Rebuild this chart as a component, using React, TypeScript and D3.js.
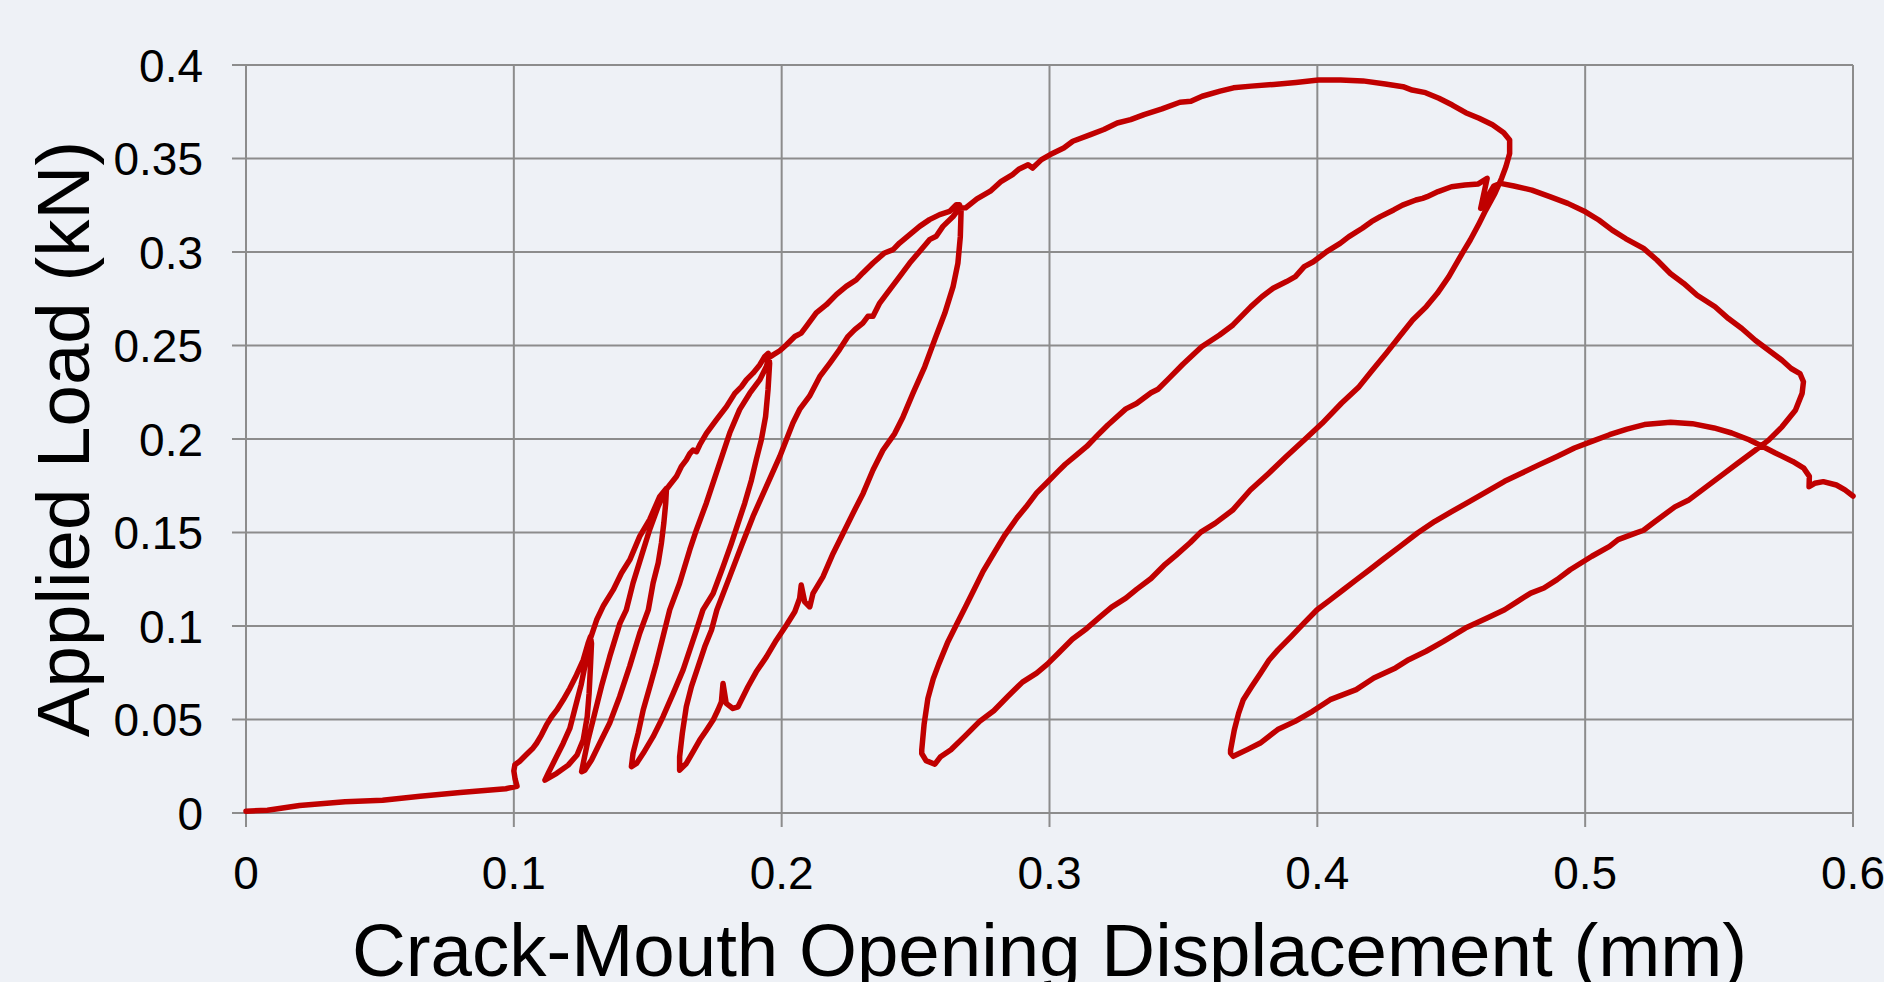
import React from 'react';
import * as d3 from 'd3';

const width = 1884;
const height = 982;

const xTicks = [0, 0.1, 0.2, 0.3, 0.4, 0.5, 0.6];
const xTickLabels = ['0', '0.1', '0.2', '0.3', '0.4', '0.5', '0.6'];
const yTicks = [0, 0.05, 0.1, 0.15, 0.2, 0.25, 0.3, 0.35, 0.4];
const yTickLabels = ['0', '0.05', '0.1', '0.15', '0.2', '0.25', '0.3', '0.35', '0.4'];

// [CMOD (mm), applied load (kN)] in drawing order
const initialLoad = [
  [0, 0.001], [0.008, 0.0015], [0.02, 0.004], [0.037, 0.006], [0.051, 0.0068],
  [0.065, 0.009], [0.08, 0.011], [0.097, 0.013], [0.1012, 0.0143],
];
const envelope1 = [
  [0.1005, 0.018], [0.1, 0.0225], [0.1004, 0.0258], [0.1022, 0.0277], [0.1047, 0.0313],
  [0.1072, 0.0348], [0.1085, 0.0373], [0.1103, 0.0417], [0.1122, 0.0471], [0.1141, 0.0515],
  [0.116, 0.055], [0.1184, 0.0604], [0.1209, 0.0667], [0.1234, 0.0738], [0.1259, 0.0818],
  [0.1277, 0.0907], [0.1286, 0.0943],
];
const unload1 = [
  [0.129, 0.0907], [0.1286, 0.0782], [0.1281, 0.0639], [0.1274, 0.0515], [0.1259, 0.039],
  [0.1236, 0.031], [0.1203, 0.0256], [0.116, 0.0212], [0.1116, 0.0176],
];
const reload1 = [
  [0.1128, 0.0212], [0.1153, 0.0283], [0.1184, 0.0372], [0.1209, 0.0452], [0.123, 0.0568],
  [0.1251, 0.0684], [0.127, 0.0818], [0.1284, 0.0925],
];
const envelope2 = [
  [0.1309, 0.1032], [0.1335, 0.111], [0.1371, 0.1193], [0.1402, 0.1283], [0.1433, 0.1354],
  [0.147, 0.1479], [0.1507, 0.1569], [0.1545, 0.1693], [0.157, 0.1736],
];
const unload2 = [
  [0.1567, 0.1656], [0.156, 0.155], [0.1551, 0.1443], [0.1539, 0.1337], [0.152, 0.123],
  [0.1502, 0.1086], [0.147, 0.0961], [0.1433, 0.0787], [0.1395, 0.0622], [0.1358, 0.0481],
  [0.1321, 0.0374], [0.129, 0.0283], [0.1265, 0.0229], [0.1253, 0.0221],
];
const reload2 = [
  [0.1259, 0.0265], [0.1277, 0.039], [0.1302, 0.0533], [0.1327, 0.0676], [0.1358, 0.0836],
  [0.1396, 0.1014], [0.142, 0.1086], [0.1445, 0.1229], [0.1476, 0.1372], [0.1507, 0.1515],
  [0.1539, 0.164], [0.1564, 0.172],
];
const envelope3 = [
  [0.1582, 0.1754], [0.1607, 0.1799], [0.1625, 0.1852], [0.1644, 0.1888], [0.1657, 0.1922],
  [0.1669, 0.1941], [0.1682, 0.1932], [0.1694, 0.1968], [0.1719, 0.203], [0.1756, 0.2102],
  [0.1794, 0.2173], [0.1825, 0.2244], [0.185, 0.228], [0.1868, 0.2316], [0.1893, 0.2352],
  [0.1918, 0.2396], [0.1937, 0.2441], [0.195, 0.2458],
];
const unload3 = [
  [0.1955, 0.2405], [0.1949, 0.2262], [0.194, 0.212], [0.1924, 0.1995], [0.1905, 0.1888],
  [0.1887, 0.178], [0.1862, 0.1656], [0.1837, 0.1549], [0.1812, 0.1441], [0.1781, 0.1316],
  [0.1744, 0.1174], [0.1706, 0.1086], [0.1682, 0.0979], [0.1657, 0.0872], [0.1632, 0.0765],
  [0.1595, 0.064], [0.1557, 0.0515], [0.152, 0.0408], [0.1483, 0.0319], [0.1458, 0.0265],
  [0.1439, 0.0248],
];
const reload3 = [
  [0.1445, 0.0319], [0.1464, 0.0426], [0.1483, 0.0551], [0.1508, 0.0676], [0.1532, 0.08],
  [0.1557, 0.0943], [0.1582, 0.1086], [0.1619, 0.1229], [0.1657, 0.1408], [0.1682, 0.1515],
  [0.1719, 0.1658], [0.1756, 0.1818], [0.1781, 0.1925], [0.1806, 0.2032], [0.1843, 0.2157],
  [0.1881, 0.2245], [0.1918, 0.2316], [0.1943, 0.2388], [0.1952, 0.2435],
];
const envelope4 = [
  [0.1968, 0.245], [0.1993, 0.2472], [0.2017, 0.2503], [0.2049, 0.2548], [0.2073, 0.2566],
  [0.2092, 0.2602], [0.2129, 0.2674], [0.2167, 0.2718], [0.2204, 0.2772], [0.2241, 0.2816],
  [0.2279, 0.2852], [0.2303, 0.2888], [0.2341, 0.2941], [0.2384, 0.2995], [0.2416, 0.3013],
  [0.244, 0.3048], [0.2478, 0.3093], [0.2515, 0.3137], [0.2552, 0.3173], [0.259, 0.32],
  [0.2627, 0.3217], [0.2652, 0.3253], [0.2664, 0.3253],
];
const unload4 = [
  [0.267, 0.3225], [0.2667, 0.3082], [0.2658, 0.294], [0.264, 0.2815], [0.2609, 0.2672],
  [0.2571, 0.2529], [0.2534, 0.2386], [0.249, 0.2244], [0.2453, 0.2118], [0.2422, 0.2029],
  [0.2378, 0.194], [0.2341, 0.1834], [0.2304, 0.1709], [0.2266, 0.1602], [0.2229, 0.1495],
  [0.2192, 0.1388], [0.2154, 0.1263], [0.2117, 0.1174], [0.2105, 0.1102], [0.2086, 0.1129],
  [0.2073, 0.1219], [0.2067, 0.1147], [0.2049, 0.1076], [0.2018, 0.1005], [0.198, 0.0924],
  [0.1943, 0.0835], [0.1905, 0.0755], [0.1874, 0.0675], [0.1837, 0.0568], [0.1818, 0.0559],
  [0.1793, 0.0586], [0.1781, 0.0693], [0.1775, 0.0595], [0.1762, 0.0551], [0.1744, 0.0497],
  [0.1719, 0.0443], [0.1694, 0.039], [0.1669, 0.0327], [0.1644, 0.0265], [0.1619, 0.0229],
];
const reload4 = [
  [0.1619, 0.0301], [0.1629, 0.0426], [0.1644, 0.0569], [0.1663, 0.0676], [0.1688, 0.0783],
  [0.1713, 0.089], [0.1738, 0.0979], [0.1758, 0.1086], [0.1806, 0.1264], [0.1849, 0.1425],
  [0.1893, 0.1586], [0.1943, 0.1747], [0.1993, 0.1907], [0.2042, 0.2086], [0.2067, 0.2158],
  [0.2104, 0.2229], [0.2142, 0.2333], [0.218, 0.2406], [0.2216, 0.2478], [0.2248, 0.2549],
  [0.2273, 0.2585], [0.2303, 0.262], [0.2322, 0.2656], [0.2341, 0.2656], [0.2366, 0.2727],
  [0.2403, 0.2798], [0.2441, 0.287], [0.2478, 0.2941], [0.2515, 0.3003], [0.2552, 0.3066],
  [0.2577, 0.3084], [0.2602, 0.3137], [0.264, 0.319], [0.2664, 0.3235],
];
const envelope5 = [
  [0.2687, 0.3236], [0.2729, 0.3284], [0.2779, 0.3325], [0.282, 0.3378], [0.2862, 0.3414],
  [0.2887, 0.3444], [0.292, 0.3467], [0.2937, 0.3449], [0.297, 0.3494], [0.3003, 0.3521],
  [0.3053, 0.3556], [0.3087, 0.3592], [0.3153, 0.3628], [0.3203, 0.3655], [0.3253, 0.369],
  [0.3303, 0.3708], [0.3353, 0.3735], [0.342, 0.3765], [0.3487, 0.3801], [0.3528, 0.3806],
  [0.357, 0.3833], [0.3637, 0.386], [0.3687, 0.3878], [0.3753, 0.3887], [0.3837, 0.3896],
  [0.392, 0.3907], [0.4004, 0.392], [0.4087, 0.392], [0.417, 0.3915], [0.4254, 0.3898],
  [0.432, 0.3884], [0.4354, 0.3866], [0.4404, 0.3852], [0.4454, 0.3822], [0.4504, 0.3786],
  [0.4554, 0.3745], [0.4604, 0.3715], [0.4654, 0.368], [0.4696, 0.3638], [0.4718, 0.3599],
];
const unload5 = [
  [0.4718, 0.3527], [0.4704, 0.3456], [0.4688, 0.3394], [0.4663, 0.3313], [0.4629, 0.3224],
  [0.4604, 0.3153], [0.4571, 0.3064], [0.4541, 0.2993], [0.4491, 0.2868], [0.4448, 0.2779],
  [0.4407, 0.2708], [0.4356, 0.2636], [0.4306, 0.2547], [0.4257, 0.2458], [0.4206, 0.2369],
  [0.4156, 0.228], [0.409, 0.2191], [0.4018, 0.2084], [0.3951, 0.1995], [0.3884, 0.1906],
  [0.3818, 0.1816], [0.375, 0.1727], [0.3684, 0.162], [0.3618, 0.1549], [0.3565, 0.1502],
  [0.3525, 0.1445], [0.3472, 0.1378], [0.3432, 0.133], [0.3379, 0.1254], [0.3325, 0.1196],
  [0.3285, 0.1149], [0.3232, 0.1101], [0.3192, 0.1053], [0.3139, 0.0987], [0.3085, 0.0929],
  [0.3032, 0.0853], [0.2992, 0.0796], [0.2952, 0.0748], [0.2899, 0.07], [0.2845, 0.0624],
  [0.2792, 0.0547], [0.2739, 0.049], [0.2686, 0.0414], [0.2632, 0.0338], [0.2592, 0.0299],
  [0.2572, 0.0261], [0.2539, 0.028], [0.2523, 0.0318],
];
const reload5 = [
  [0.2523, 0.0337], [0.2532, 0.0477], [0.2546, 0.0613], [0.2566, 0.0718], [0.2586, 0.0795],
  [0.2619, 0.091], [0.2652, 0.1005], [0.2686, 0.1101], [0.2719, 0.1196], [0.2752, 0.1292],
  [0.2792, 0.1388], [0.2832, 0.1483], [0.2879, 0.1579], [0.2912, 0.1636], [0.2952, 0.1712],
  [0.2992, 0.1769], [0.3032, 0.1827], [0.3059, 0.1865], [0.3099, 0.1913], [0.3139, 0.196],
  [0.3178, 0.2018], [0.3218, 0.2075], [0.3285, 0.2161], [0.3325, 0.219], [0.3379, 0.2247],
  [0.3405, 0.2266], [0.3445, 0.2323], [0.3498, 0.24], [0.3568, 0.2493], [0.3635, 0.2556],
  [0.3685, 0.261], [0.3752, 0.2708], [0.3793, 0.2761], [0.3835, 0.2806], [0.3885, 0.2842],
  [0.3918, 0.2868], [0.3951, 0.2922], [0.3985, 0.2948], [0.4035, 0.3002], [0.4085, 0.3046],
  [0.4118, 0.3082], [0.4168, 0.3127], [0.4202, 0.3162], [0.4235, 0.3189], [0.4285, 0.3225],
  [0.4318, 0.3251], [0.4368, 0.3278], [0.4393, 0.3287], [0.441, 0.3296], [0.4451, 0.3323],
  [0.4501, 0.3349], [0.4551, 0.3358], [0.4601, 0.3364], [0.4634, 0.3394], [0.461, 0.3233],
  [0.4659, 0.3353], [0.4684, 0.3367],
];
const envelope6 = [
  [0.4734, 0.3353], [0.4801, 0.3331], [0.4868, 0.3296], [0.4935, 0.326], [0.5001, 0.3215],
  [0.5051, 0.3171], [0.5101, 0.3117], [0.5151, 0.3072], [0.5218, 0.3019], [0.5268, 0.2957],
  [0.5318, 0.2885], [0.5368, 0.2832], [0.5418, 0.2769], [0.5485, 0.2707], [0.5535, 0.2644],
  [0.5585, 0.2591], [0.5635, 0.2528], [0.5685, 0.2475], [0.5735, 0.2421], [0.5769, 0.2377],
  [0.5802, 0.235], [0.5815, 0.2306],
];
const unload6 = [
  [0.581, 0.2244], [0.5785, 0.2154], [0.5735, 0.2065], [0.5685, 0.1994], [0.5635, 0.194],
  [0.5568, 0.1869], [0.5518, 0.1815], [0.5452, 0.1744], [0.5385, 0.1672], [0.5335, 0.1637],
  [0.5251, 0.1548], [0.5218, 0.1512], [0.5188, 0.1497], [0.5123, 0.1462], [0.5091, 0.1426],
  [0.5025, 0.1373], [0.4944, 0.1301], [0.4895, 0.1248], [0.4846, 0.1203], [0.4797, 0.1176],
  [0.4748, 0.1132], [0.4699, 0.1087], [0.4634, 0.1043], [0.4553, 0.0989], [0.4471, 0.0918],
  [0.4406, 0.0865], [0.4341, 0.082], [0.4292, 0.0776], [0.4211, 0.0722], [0.4145, 0.066],
  [0.4048, 0.0606], [0.3982, 0.0544], [0.3917, 0.049], [0.3852, 0.0446], [0.3787, 0.0374],
  [0.3738, 0.0339], [0.3686, 0.0303], [0.3676, 0.0321],
];
const reload6 = [
  [0.3676, 0.0337], [0.369, 0.0444], [0.3706, 0.0533], [0.3723, 0.0604], [0.3755, 0.0676],
  [0.3788, 0.0747], [0.382, 0.0818], [0.3853, 0.0872], [0.3902, 0.0943], [0.395, 0.1015],
  [0.3999, 0.1087], [0.4048, 0.114], [0.4097, 0.1194], [0.4145, 0.1247], [0.4195, 0.1301],
  [0.4243, 0.1354], [0.4309, 0.1426], [0.4374, 0.1497], [0.4439, 0.156], [0.4503, 0.1613],
  [0.4569, 0.1666], [0.4634, 0.172], [0.4699, 0.1774], [0.4764, 0.1818], [0.4829, 0.1863],
  [0.4895, 0.1907], [0.496, 0.1952], [0.5025, 0.1987], [0.5091, 0.2023], [0.5156, 0.2053],
  [0.5221, 0.2077], [0.5319, 0.2089], [0.54, 0.2082], [0.5481, 0.2059], [0.5547, 0.2032],
  [0.5612, 0.1996], [0.5661, 0.1961], [0.571, 0.1925], [0.5775, 0.188], [0.5816, 0.1844],
  [0.5837, 0.18], [0.5836, 0.1745], [0.5857, 0.1763], [0.5889, 0.1772], [0.5938, 0.1754],
  [0.597, 0.1728], [0.6, 0.1695],
];

const cmodCurve = [
  ...initialLoad, ...envelope1, ...unload1, ...reload1, ...envelope2, ...unload2, ...reload2,
  ...envelope3, ...unload3, ...reload3, ...envelope4, ...unload4, ...reload4, ...envelope5,
  ...unload5, ...reload5, ...envelope6, ...unload6, ...reload6,
];

export default function App() {
  const plotLeft = 246;
  const plotRight = 1853;
  const plotTop = 65;
  const plotBottom = 813;
  const font = '"Liberation Sans", Arial, sans-serif';
  const gridColor = '#8c8c8c';

  const x = d3.scaleLinear().domain([0, 0.6]).range([plotLeft, plotRight]);
  const y = d3.scaleLinear().domain([0, 0.4]).range([plotBottom, plotTop]);
  const line = d3.line<number[]>()
    .x(d => x(d[0]))
    .y(d => y(d[1]));

  return (
    <svg width={width} height={height} viewBox={`0 0 ${width} ${height}`}
      style={{ position: 'absolute', left: 0, top: 0, display: 'block' }}>
      <rect width={width} height={height} fill="#eef1f6" />

      {/* horizontal grid + left ticks */}
      {yTicks.map(t => (
        <line key={'gy' + t} x1={plotLeft - 14} x2={plotRight} y1={y(t)} y2={y(t)}
          stroke={gridColor} strokeWidth={2} />
      ))}
      {/* vertical grid + bottom ticks */}
      {xTicks.map(t => (
        <line key={'gx' + t} x1={x(t)} x2={x(t)} y1={plotTop} y2={plotBottom + 14}
          stroke={gridColor} strokeWidth={2} />
      ))}

      <path d={line(cmodCurve) ?? ''} fill="none" stroke="#c00000" strokeWidth={5.5}
        strokeLinejoin="round" strokeLinecap="round" />

      {yTicks.map((t, i) => (
        <text key={'ly' + t} x={plotLeft - 43} y={y(t) + 16.5} textAnchor="end"
          fontFamily={font} fontSize={46} fill="#000">{yTickLabels[i]}</text>
      ))}
      {xTicks.map((t, i) => (
        <text key={'lx' + t} x={x(t)} y={889} textAnchor="middle"
          fontFamily={font} fontSize={46} fill="#000">{xTickLabels[i]}</text>
      ))}

      <text x={(plotLeft + plotRight) / 2} y={976} textAnchor="middle"
        fontFamily={font} fontSize={74.5} fill="#000">Crack-Mouth Opening Displacement (mm)</text>
      <text transform={`translate(89, ${(plotTop + plotBottom) / 2}) rotate(-90)`} textAnchor="middle"
        fontFamily={font} fontSize={74.5} fill="#000">Applied Load (kN)</text>
    </svg>
  );
}
